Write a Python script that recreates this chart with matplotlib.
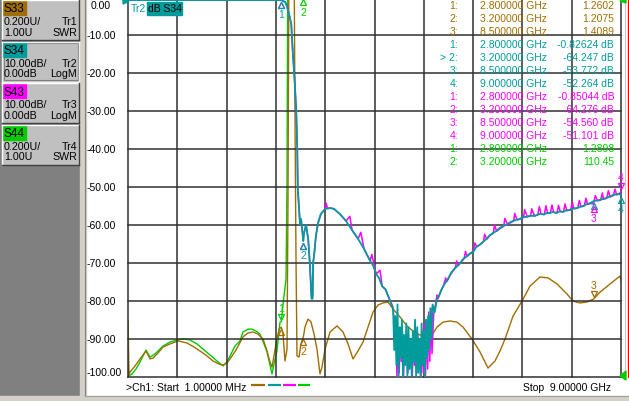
import matplotlib
matplotlib.use("Agg")
import matplotlib.pyplot as plt
from matplotlib.patches import Rectangle, Polygon
from matplotlib.transforms import offset_copy

plt.rcParams["font.family"] = ["Liberation Sans", "DejaVu Sans"]

W, H = 629, 402

BROWN = "#a06e00"
TEAL = "#009c9c"
MAGENTA = "#ff00ff"
GREEN = "#00cc00"
GRID = "#303030"

# --- Tr2 S34, log magnitude (dB) ---
s34_freq = [0.001, 0.03, 0.3, 1.0, 1.6, 2.2, 2.6, 2.79, 2.87, 2.90, 2.94, 2.98, 2.99,
            3.01, 3.04, 3.07, 3.09, 3.10, 3.14, 3.16, 3.20, 3.21, 3.25, 3.29, 3.32,
            3.35, 3.37, 3.38, 3.40, 3.43, 3.47, 3.52, 3.60, 3.69, 3.76, 3.87, 3.98,
            4.09, 4.20, 4.31, 4.42, 4.47, 4.53, 4.58, 4.64, 4.70, 4.75, 4.82,
            4.84, 4.86, 4.88, 4.90, 4.92, 4.94, 4.96, 4.98, 5.00, 5.02, 5.04, 5.06,
            5.08, 5.10, 5.12, 5.14, 5.16, 5.18, 5.20, 5.22, 5.24, 5.26, 5.28, 5.30,
            5.32, 5.34, 5.36, 5.38, 5.40, 5.42, 5.44, 5.46, 5.48, 5.50, 5.52, 5.54,
            5.56, 5.60, 5.64, 5.68, 5.73, 5.78, 5.84, 5.90, 5.96, 6.01, 6.06, 6.12,
            6.18, 6.24, 6.30, 6.36, 6.42, 6.48, 6.54, 6.60, 6.66, 6.72, 6.78, 6.85,
            6.92, 6.98, 7.03, 7.09, 7.15, 7.21, 7.28, 7.34, 7.41, 7.47, 7.53, 7.59,
            7.65, 7.70, 7.76, 7.82, 7.88, 7.94, 8.00, 8.07, 8.13, 8.20, 8.26, 8.32,
            8.38, 8.44, 8.50, 8.56, 8.62, 8.67, 8.73, 8.79, 8.85, 8.91, 8.96, 9.00]
s34_db = [-0.4, -0.8, -0.8, -0.8, -0.8, -0.8, -0.8, -0.83, -1.3, -2.4, -4.5, -7.1, -9.7,
          -15.0, -21.6, -29.5, -40.0, -50.6, -59.8, -58.5, -64.25, -62.4, -60.0, -63.8, -70.3,
          -79.5, -79.5, -70.0, -67.7, -63.0, -59.5, -57.2, -55.8, -55.6, -55.8, -57.2, -59.0,
          -61.4, -63.7, -66.4, -69.5, -70.6, -73.0, -74.0, -76.2, -77.0, -78.8, -81.4,
          -82, -93, -84, -97, -81, -100, -87, -95, -85, -100, -89, -97,
          -86, -100, -87, -98, -90, -100, -88, -96, -85, -100, -87, -99,
          -90, -100, -86, -97, -88, -100, -85, -95, -84, -93, -82, -90,
          -81, -83.0, -79.6, -78.6, -76.9, -75.6, -74.3, -72.6, -71.6, -70.9, -70.2, -69.0,
          -68.4, -67.6, -67.2, -65.8, -65.3, -64.5, -63.8, -62.8, -62.2, -61.7, -60.9, -60.3,
          -59.9, -59.3, -59.0, -58.7, -58.5, -58.0, -57.9, -57.6, -57.7, -57.4, -57.1, -57.3,
          -56.9, -56.9, -56.6, -56.9, -56.5, -56.6, -56.2, -56.1, -55.7, -55.6, -55.2, -55.0,
          -54.5, -54.3, -53.77, -53.6, -53.4, -53.2, -52.9, -52.6, -52.2, -52.0, -51.8, -52.26]

# --- Tr3 S43, log magnitude (dB) ---
s43_freq = [0.001, 0.03, 0.3, 1.0, 1.6, 2.2, 2.6, 2.80, 2.87, 2.90, 2.94, 2.98, 2.99,
            3.01, 3.04, 3.07, 3.09, 3.10, 3.14, 3.16, 3.20, 3.21, 3.25, 3.29, 3.32,
            3.35, 3.37, 3.38, 3.40, 3.43, 3.47, 3.52, 3.60, 3.62, 3.64, 3.69, 3.76, 3.87,
            3.98, 4.05, 4.09, 4.20, 4.25, 4.31, 4.42, 4.45, 4.53, 4.60, 4.64, 4.70,
            4.75, 4.83,
            4.85, 4.87, 4.89, 4.91, 4.93, 4.95, 4.97, 4.99, 5.01, 5.03, 5.05, 5.07,
            5.09, 5.11, 5.13, 5.15, 5.17, 5.19, 5.21, 5.23, 5.25, 5.27, 5.29, 5.31,
            5.33, 5.35, 5.37, 5.39, 5.41, 5.43, 5.45, 5.47, 5.49, 5.51, 5.53, 5.55,
            5.58, 5.62, 5.64, 5.66, 5.71, 5.76, 5.80, 5.82, 5.87, 5.93, 5.98, 6.00,
            6.03, 6.09, 6.14, 6.16, 6.19, 6.25, 6.31, 6.33, 6.37, 6.43, 6.49, 6.51,
            6.55, 6.61, 6.67, 6.69, 6.73, 6.79, 6.86, 6.88, 6.93, 6.99, 7.04, 7.06,
            7.10, 7.16, 7.22, 7.24, 7.29, 7.35, 7.37, 7.42, 7.48, 7.51, 7.54, 7.60,
            7.63, 7.66, 7.71, 7.74, 7.77, 7.83, 7.86, 7.89, 7.95, 7.98, 8.01, 8.08,
            8.11, 8.14, 8.21, 8.24, 8.27, 8.33, 8.36, 8.39, 8.45, 8.50, 8.53, 8.57,
            8.63, 8.66, 8.68, 8.74, 8.77, 8.80, 8.86, 8.89, 8.92, 8.97, 9.00]
s43_db = [-0.4, -0.8, -0.8, -0.8, -0.8, -0.8, -0.8, -0.85, -1.3, -2.4, -4.5, -7.1, -9.7,
          -15.0, -21.6, -29.5, -40.0, -50.6, -59.8, -58.5, -64.28, -62.4, -60.0, -63.8, -70.3,
          -79.0, -79.0, -70.0, -67.7, -63.0, -59.5, -57.2, -55.8, -54.3, -55.7, -55.6, -55.8, -57.2,
          -59.0, -57.8, -61.4, -63.7, -62.0, -66.4, -69.5, -67.8, -73.0, -72.0, -76.2, -77.0,
          -78.8, -81.4,
          -84, -90, -86, -100, -88, -99, -89, -96, -88, -100, -90, -96,
          -89, -99, -90, -97, -91, -100, -89, -97, -90, -99, -89, -98,
          -90, -100, -88, -99, -86, -100, -85, -98, -83, -96, -82, -94,
          -83.5, -80.5, -78.5, -79.5, -77.5, -76.0, -74.0, -75.0, -73.6, -72.2, -71.2, -69.5,
          -70.7, -69.7, -68.8, -67.0, -68.3, -67.6, -66.8, -64.8, -65.8, -65.2, -64.4, -62.5,
          -63.8, -62.8, -62.2, -60.0, -61.7, -61.0, -60.4, -58.3, -60.0, -59.4, -59.0, -57.0,
          -58.7, -58.5, -58.1, -56.0, -57.9, -57.7, -55.8, -57.7, -57.4, -55.2, -57.2, -57.3,
          -55.0, -57.0, -56.9, -54.8, -56.7, -56.9, -54.9, -56.5, -56.6, -54.5, -56.3, -56.1,
          -54.0, -55.8, -55.6, -53.6, -55.3, -55.0, -53.0, -54.6, -54.4, -54.56, -52.3, -53.7,
          -53.5, -51.6, -53.3, -53.0, -51.0, -52.7, -52.3, -50.6, -52.1, -51.9, -51.10]

# --- Tr1 S33, SWR ---
s33_freq = [0.001, 0.018, 0.037, 0.128, 0.219, 0.329, 0.402, 0.456, 0.548, 0.639, 0.767,
            0.913, 1.077, 1.205, 1.314, 1.442, 1.552, 1.661, 1.734, 1.807, 1.862, 1.972,
            2.099, 2.191, 2.282, 2.373, 2.465, 2.538, 2.592, 2.629, 2.702, 2.757, 2.800,
            2.830, 2.866, 2.903, 2.921, 2.939, 3.030, 3.049, 3.067, 3.085, 3.122, 3.158,
            3.200, 3.231, 3.286, 3.341, 3.396, 3.450, 3.505, 3.542, 3.597, 3.688, 3.816,
            3.925, 4.017, 4.108, 4.199, 4.290, 4.382, 4.473, 4.564, 4.655, 4.747, 4.838,
            4.966, 5.093, 5.203, 5.331, 5.459, 5.550, 5.641, 5.751, 5.878, 6.006, 6.116,
            6.280, 6.426, 6.572, 6.700, 6.791, 6.883, 7.029, 7.193, 7.339, 7.522, 7.668,
            7.832, 8.015, 8.124, 8.252, 8.380, 8.500, 8.617, 8.800, 8.982, 9.000]
s33_swr = [1.293, 1.008, 1.024, 1.056, 1.093, 1.135, 1.093, 1.098, 1.124, 1.156, 1.172,
           1.188, 1.177, 1.156, 1.135, 1.109, 1.082, 1.066, 1.061, 1.072, 1.093, 1.140,
           1.209, 1.230, 1.235, 1.224, 1.198, 1.135, 1.077, 1.050, 1.172, 1.250, 1.2602,
           1.224, 1.082, 1.145, 1.936, 3.300, 3.300, 2.357, 1.620, 1.109, 1.103, 1.172,
           1.2075, 1.261, 1.303, 1.288, 1.224, 1.145, 1.014, 1.050, 1.145, 1.235, 1.267,
           1.235, 1.172, 1.093, 1.135, 1.182, 1.261, 1.340, 1.377, 1.388, 1.393, 1.356,
           1.314, 1.267, 1.240, 1.219, 1.209, 1.219, 1.261, 1.287, 1.293, 1.287, 1.261,
           1.198, 1.130, 1.045, 1.082, 1.135, 1.198, 1.319, 1.398, 1.477, 1.525, 1.520,
           1.488, 1.435, 1.398, 1.388, 1.393, 1.4089, 1.445, 1.488, 1.530, 1.504]

# --- Tr4 S44, SWR ---
s44_freq = [0.001, 0.010, 0.073, 0.146, 0.219, 0.329, 0.402, 0.493, 0.639, 0.767, 0.895,
            1.022, 1.132, 1.260, 1.369, 1.497, 1.625, 1.734, 1.807, 1.862, 1.953, 2.045,
            2.099, 2.191, 2.264, 2.337, 2.410, 2.483, 2.538, 2.629, 2.684, 2.720, 2.775,
            2.800, 2.830, 2.885, 2.903, 2.921, 3.200]
s44_swr = [1.172, 1.003, 1.014, 1.040, 1.077, 1.140, 1.103, 1.119, 1.161, 1.182, 1.193,
           1.198, 1.193, 1.172, 1.145, 1.114, 1.082, 1.056, 1.077, 1.108, 1.161, 1.188,
           1.235, 1.250, 1.250, 1.240, 1.224, 1.172, 1.130, 1.014, 1.093, 1.135, 1.287,
           1.2898, 1.382, 1.514, 2.040, 3.500, 110.45]

# marker readout table (colour key, number, frequency, value)
readouts = [
    ("s33", "1:", "2.800000 GHz", "1.2602"),
    ("s33", "2:", "3.200000 GHz", "1.2075"),
    ("s33", "3:", "8.500000 GHz", "1.4089"),
    ("s34", "1:", "2.800000 GHz", "-0.82624 dB"),
    ("s34", "> 2:", "3.200000 GHz", "-64.247 dB"),
    ("s34", "3:", "8.500000 GHz", "-53.772 dB"),
    ("s34", "4:", "9.000000 GHz", "-52.264 dB"),
    ("s43", "1:", "2.800000 GHz", "-0.85044 dB"),
    ("s43", "2:", "3.200000 GHz", "-64.276 dB"),
    ("s43", "3:", "8.500000 GHz", "-54.560 dB"),
    ("s43", "4:", "9.000000 GHz", "-51.101 dB"),
    ("s44", "1:", "2.800000 GHz", "1.2898"),
    ("s44", "2:", "3.200000 GHz", "110.45"),
]

# trace setup panels (name, scale, trace, reference, format)
panels = [
    ("S33", "0.200U/", "Tr1", "1.00U", "SWR"),
    ("S34", "10.00dB/", "Tr2", "0.00dB", "LogM"),
    ("S43", "10.00dB/", "Tr3", "0.00dB", "LogM"),
    ("S44", "0.200U/", "Tr4", "1.00U", "SWR"),
]
yticks_db = [0, -10, -20, -30, -40, -50, -60, -70, -80, -90, -100]

COLORS = {"s33": BROWN, "s34": TEAL, "s43": MAGENTA, "s44": GREEN}
FS = 7.5

fig = plt.figure(figsize=(W / 100, H / 100), dpi=100, facecolor="white")

# background layer in pixel coordinates
bg = fig.add_axes([0, 0, 1, 1], zorder=0)
bg.set_xlim(0, W)
bg.set_ylim(H, 0)
bg.axis("off")
bg.add_patch(Rectangle((0, 0), 80, 397, color="#808080"))
bg.add_patch(Rectangle((80, 0), 6, H, color="#d4d0c8"))
bg.plot([84.5, 84.5], [0, 397], color="#808080", lw=0.8)
bg.add_patch(Rectangle((0, 397), W, 5, color="#d4d0c8"))
bg.plot([84.5, W], [397, 397], color="#a0a0a0", lw=0.8)
bg.plot([625, 625], [0, 378], color="#c8c8c8", lw=0.8)
bg.plot([627.5, 627.5], [0, 378], color="#ff0000", lw=0.9)

for i, (name, scale, tr, ref, fmt) in enumerate(panels):
    by = 1 + i * 41.6
    active = name == "S34"
    bg.add_patch(Rectangle((2, by), 77, 40, facecolor="#c0c0c0", edgecolor="none"))
    light, dark = ("#f0f0f0", "#f0f0f0") if active else ("#ffffff", "#404040")
    bg.plot([2, 79], [by, by], color=light, lw=1.0)
    bg.plot([2, 2], [by, by + 40], color=light, lw=1.0)
    bg.plot([2, 79], [by + 40, by + 40], color=dark, lw=1.0)
    bg.plot([79, 79], [by, by + 40], color=dark, lw=1.0)
    if active:
        bg.add_patch(Rectangle((3.5, by + 1.5), 74, 37, fill=False, edgecolor="#808080", lw=0.8))
    bg.add_patch(Rectangle((3, by + 1), 23, 14, color=COLORS[name.lower()]))
    bg.text(4, by + 8.5, name, fontsize=8.5, va="center", ha="left", color="black")
    bg.text(4, by + 21, scale, fontsize=7.7, va="center", ha="left", color="black")
    bg.text(77, by + 21, tr, fontsize=7.7, va="center", ha="right", color="black")
    bg.text(4, by + 31.5, ref, fontsize=7.7, va="center", ha="left", color="black")
    bg.text(77, by + 31.5, fmt, fontsize=7.7, va="center", ha="right", color="black")

# y scale labels (S34 reference scale)
for v in yticks_db:
    ypix = -2 + 3.796 * (-v)
    ypix = min(max(ypix, 6), 373)
    bg.text(91 if v == 0 else 87, ypix, f"{v:.2f}", fontsize=FS, va="center", ha="left")

# main graticule: dB scale
x0, y_bot, w_px, h_px = 128, 377.6, 493, 379.6
ax = fig.add_axes([x0 / W, (H - y_bot) / H, w_px / W, h_px / H], zorder=2)
ax.set_xlim(0, 9)
ax.set_ylim(-100, 0)
ax.patch.set_visible(False)
ax.axis("off")

ax2 = ax.twinx()
ax2.set_zorder(1)
ax2.set_ylim(1.0, 3.0)
ax2.axis("off")

for k in range(11):
    ax.axvline(k * 0.9, color=GRID, lw=1.1, clip_on=False, zorder=1)
for v in yticks_db:
    ax.axhline(v, color=GRID, lw=1.1, clip_on=False, zorder=1)

ax2.plot(s44_freq, s44_swr, color=GREEN, lw=1.0, zorder=3)
ax2.plot(s33_freq, s33_swr, color=BROWN, lw=1.0, zorder=4)
ax.plot(s43_freq, s43_db, color=MAGENTA, lw=1.1, zorder=5)
ax.plot(s34_freq, s34_db, color=TEAL, lw=1.3, zorder=6)


def marker(axis, f, val, color, label, above):
    d = 1 if above else -1
    tr_m = offset_copy(axis.transData, fig=fig, x=0, y=5 * d, units="dots")
    tr_t = offset_copy(axis.transData, fig=fig, x=0, y=14 * d, units="dots")
    axis.plot([f], [val], marker="v" if above else "^", ms=5, mew=0.9,
              mfc="none", mec=color, transform=tr_m, clip_on=False, zorder=8)
    if label:
        axis.text(f, val, label, color=color, fontsize=FS, ha="center", va="center",
                  transform=tr_t, clip_on=False, zorder=8)


marker(ax, 2.8, -0.85044, MAGENTA, "", False)
marker(ax, 2.8, -0.82624, TEAL, "1", False)
marker(ax, 3.2, -64.276, MAGENTA, "", False)
marker(ax, 3.2, -64.247, TEAL, "2", False)
marker(ax, 8.5, -53.772, TEAL, "", False)
marker(ax, 8.5, -54.560, MAGENTA, "3", False)
marker(ax, 9.0, -52.264, TEAL, "4", False)
marker(ax, 9.0, -51.101, MAGENTA, "4", True)
marker(ax2, 2.8, 1.2602, BROWN, "", False)
marker(ax2, 3.2, 1.2075, BROWN, "2", False)
marker(ax2, 8.5, 1.4089, BROWN, "3", True)
marker(ax2, 2.8, 1.2898, GREEN, "1", True)

# foreground annotations in pixel coordinates
fg = fig.add_axes([0, 0, 1, 1], zorder=10)
fg.set_xlim(0, W)
fg.set_ylim(H, 0)
fg.patch.set_visible(False)
fg.axis("off")

# off-scale marker for S44 at 3.2 GHz
fg.plot([303], [3], marker="^", ms=5, mew=0.9, mfc="none", mec=GREEN)
fg.text(303, 13, "2", color=GREEN, fontsize=FS, ha="center", va="center")

# reference arrows
fg.add_patch(Polygon([[123, 0], [129, 2.5], [123, 5]], closed=True, color=TEAL))
fg.add_patch(Polygon([[626, 372], [620, 377], [626, 381]], closed=True, color=GREEN))
fg.add_patch(Polygon([[626, 0], [620, 2], [626, 4]], closed=True, color=GREEN))

# active trace label
fg.text(131, 9, "Tr2", color=TEAL, fontsize=FS, ha="left", va="center")
fg.add_patch(Rectangle((147, 2.5), 35, 13, color=TEAL))
fg.text(148, 9, "dB S34", color="black", fontsize=FS, ha="left", va="center")

# marker readouts
for i, (key, num, freq, val) in enumerate(readouts):
    y = 6 + 13 * i
    c = COLORS[key]
    fg.text(458, y, num, color=c, fontsize=FS, ha="right", va="center")
    fg.text(480, y, freq, color=c, fontsize=FS, ha="left", va="center")
    fg.text(614, y, val, color=c, fontsize=FS, ha="right", va="center")

# channel status line
fg.text(126, 388, ">Ch1: Start  1.00000 MHz", fontsize=FS, ha="left", va="center")
for c, (xa, xb) in zip([BROWN, TEAL, MAGENTA, GREEN],
                       [(251, 265), (268, 281), (283, 296), (298, 310)]):
    fg.plot([xa, xb], [386, 386], color=c, lw=1.6, solid_capstyle="butt")
fg.text(611, 388, "Stop  9.00000 GHz", fontsize=FS, ha="right", va="center")

fig.savefig("out.png", dpi=100, facecolor="white")
